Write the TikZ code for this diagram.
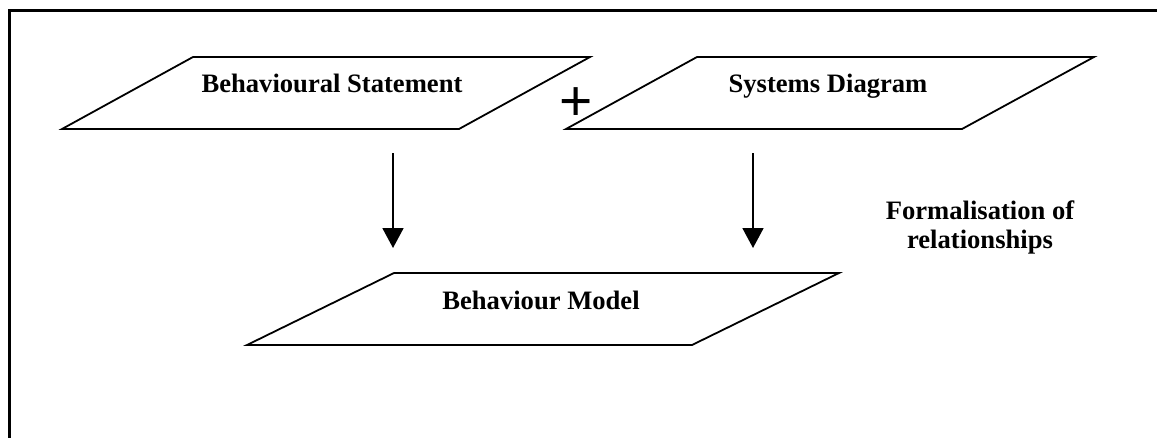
\documentclass[tikz,border=0pt]{standalone}
\usepackage{fontspec}
\setmainfont{Liberation Serif}
\newfontfamily\plusfont{Liberation Sans}
\usetikzlibrary{arrows.meta}
\tikzset{
  frame/.style={line width=3pt, line cap=rect},
  para/.style={draw, line width=1.8pt, line join=miter},
  label/.style={font=\fontsize{26.6}{29}\selectfont\bfseries, inner sep=0pt, anchor=base},
  arr/.style={line width=1.8pt, -{Triangle[width=21pt,length=20pt]}},
}
\begin{document}
\begin{tikzpicture}[x=1pt,y=-1pt]
\useasboundingbox (0,0) rectangle (1157,437);
% frame (top and left edges visible)
\draw[frame] (1157,10) -- (9,10) -- (9,437);
% parallelograms
\draw[para] (62,129) -- (193,57) -- (590,57) -- (459,129) -- cycle;
\draw[para] (566,129) -- (697,57) -- (1094,57) -- (962,129) -- cycle;
\draw[para] (247,345) -- (394,273) -- (839,273) -- (692,345) -- cycle;
% labels
\node[label] (bs) at (332,92) {Behavioural Statement};
\node[label] (sd) at (828,92) {Systems Diagram};
\node[label] (bm) at (541,309) {Behaviour Model};
\node[label, align=center, anchor=north] (fr) at (980,201) {Formalisation of\\relationships};
\node[inner sep=0pt, anchor=base, font=\plusfont\fontsize{57}{60}\selectfont] (plus) at (576,120) {+};
% arrows
\coordinate (a1s) at (393,153);
\coordinate (a1e) at (393,248);
\coordinate (a2s) at (753,153);
\coordinate (a2e) at (753,248);
\draw[arr] (a1s) -- (a1e);
\draw[arr] (a2s) -- (a2e);
\end{tikzpicture}
\end{document}
